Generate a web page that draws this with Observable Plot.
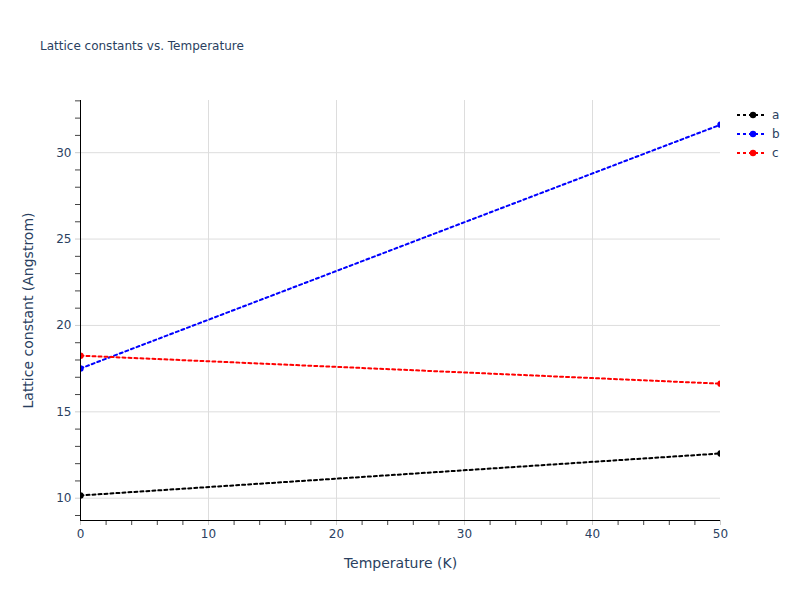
<!DOCTYPE html>
<html>
<head>
<meta charset="utf-8">
<script src="https://cdn.jsdelivr.net/npm/d3@7"></script>
<script src="https://cdn.jsdelivr.net/npm/@observablehq/plot@0.6"></script>
<style>
  body { margin: 0; background: #fff; }
  #wrap { position: relative; width: 800px; height: 600px; font-family: "DejaVu Sans", sans-serif; color: #2a3f5f; }
  #title { position: absolute; left: 40px; top: 39px; font-size: 12px; white-space: nowrap; }
  #legend { position: absolute; left: 736px; top: 105px; }
  .item { display: flex; align-items: center; height: 19px; font-size: 12px; }
  .item svg { margin-right: 6px; }
</style>
</head>
<body>
<div id="wrap">
  <div id="title">Lattice constants vs. Temperature</div>
  <div id="legend"></div>
</div>
<script>
const temperatures = [0, 50];
const series = ["a", "b", "c"];
const colors = ["black", "blue", "red"];
const aValues = [10.16, 12.59];
const bValues = [17.51, 31.62];
const cValues = [18.25, 16.63];
const xTicks = [0, 10, 20, 30, 40, 50];
const yTicks = [10, 15, 20, 25, 30];
const xMinor = d3.range(0, 51, 2).filter(v => v % 10 !== 0);
const yMinor = d3.range(9, 34, 1).filter(v => v % 5 !== 0);
const xDomain = [0, 50];
const yDomain = [8.71, 33.02];

const valuesBySeries = {a: aValues, b: bValues, c: cValues};
const data = series.flatMap(s => temperatures.map((t, i) => ({series: s, T: t, value: valuesBySeries[s][i]})));

const chart = Plot.plot({
  width: 800,
  height: 600,
  marginLeft: 80,
  marginRight: 80,
  marginTop: 100,
  marginBottom: 80,
  style: {fontFamily: "DejaVu Sans", fontSize: "12px", color: "#2a3f5f", background: "transparent"},
  x: {domain: xDomain},
  y: {domain: yDomain},
  color: {domain: series, range: colors},
  marks: [
    Plot.gridX(xTicks.filter(v => v > xDomain[0] && v < xDomain[1]), {stroke: "#dddddd", strokeOpacity: 1, strokeWidth: 1}),
    Plot.gridY(yTicks, {stroke: "#dddddd", strokeOpacity: 1, strokeWidth: 1}),
    Plot.axisX(xMinor, {tickSize: 5, text: null, stroke: "#444", label: null}),
    Plot.axisX(xTicks, {tickSize: 5, stroke: "#cccccc", tickPadding: 4, fontSize: 12, label: "Temperature (K)", labelAnchor: "center", labelOffset: 47, labelArrow: "none"}),
    Plot.axisY(yMinor, {tickSize: 5, text: null, stroke: "#444", label: null}),
    Plot.axisY(yTicks, {tickSize: 5, stroke: "#cccccc", tickPadding: 4, fontSize: 12, label: "Lattice constant (Angstrom)", labelAnchor: "center", labelOffset: 57, labelArrow: "none"}),
    Plot.line(data, {x: "T", y: "value", z: "series", stroke: "series", strokeWidth: 2, strokeDasharray: "3,3", clip: true}),
    Plot.dot(data, {x: "T", y: "value", fill: "series", r: 3.2, clip: true}),
    Plot.ruleY([yDomain[0]], {stroke: "black", strokeWidth: 1}),
    Plot.ruleX([xDomain[0]], {stroke: "black", strokeWidth: 1})
  ]
});
chart.style.position = "absolute";
chart.style.left = "0px";
chart.style.top = "0px";
d3.select(chart).selectAll("g[aria-label='x-axis label'] text, g[aria-label='y-axis label'] text").style("font-size", "14px");
document.getElementById("wrap").insertBefore(chart, document.getElementById("title"));

const legend = d3.select("#legend");
series.forEach((s, i) => {
  const item = legend.append("div").attr("class", "item");
  const svg = item.append("svg").attr("width", 30).attr("height", 10);
  svg.append("line").attr("x1", 1).attr("x2", 29).attr("y1", 5).attr("y2", 5)
    .attr("stroke", colors[i]).attr("stroke-width", 2).attr("stroke-dasharray", "3,3");
  svg.append("circle").attr("cx", 17).attr("cy", 5).attr("r", 3.2).attr("fill", colors[i]);
  item.append("span").text(s);
});
</script>
</body>
</html>
